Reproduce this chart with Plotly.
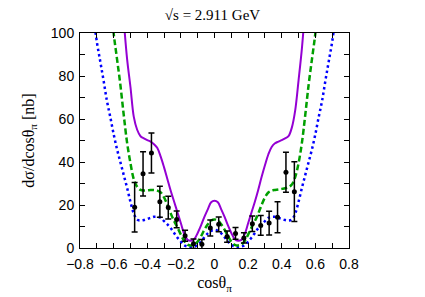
import plotly.graph_objects as go

# Data points at sqrt(s) = 2.911 GeV
cos_pts = [-0.475, -0.425, -0.375, -0.325, -0.275, -0.225, -0.175, -0.125, -0.075, -0.025,
           0.025, 0.075, 0.125, 0.175, 0.225, 0.275, 0.325, 0.375, 0.425, 0.475]
dsig = [19.0, 34.5, 44.2, 21.5, 18.8, 13.3, 5.7, 2.0, 1.7, 9.3,
        11.0, 5.3, 6.8, 4.7, 11.3, 10.5, 11.6, 14.3, 35.2, 26.2]
dsig_err = [11.5, 10.3, 9.3, 7.2, 5.3, 3.9, 2.6, 2.2, 2.3, 3.7,
            3.4, 2.6, 2.7, 2.4, 3.6, 4.6, 5.5, 7.2, 9.3, 13.9]

# Model curves
x_purple = [-0.56, -0.54, -0.52, -0.50, -0.48, -0.46, -0.44, -0.42, -0.40, -0.38, -0.36, -0.34,
            -0.32, -0.30, -0.28, -0.26, -0.24, -0.22, -0.20, -0.18, -0.16, -0.14, -0.12, -0.10,
            -0.08, -0.06, -0.04, -0.02, 0.00, 0.02, 0.04, 0.06, 0.08, 0.10, 0.12, 0.14, 0.16,
            0.18, 0.20, 0.22, 0.24, 0.26, 0.28, 0.30, 0.32, 0.34, 0.36, 0.38, 0.40, 0.42, 0.44,
            0.46, 0.48, 0.50, 0.52, 0.54, 0.56]
y_purple = [125, 106, 88, 75, 61, 55, 52, 51, 50.2, 49.5, 48.3, 46.5,
            42.5, 37.5, 32, 26.5, 21.5, 16.5, 11.5, 6.5, 3.8, 3.4, 4.2, 7,
            10.5, 14.5, 18, 21.3, 22, 21.3, 18, 14.5, 10.5, 7, 4.2, 3.4, 3.8,
            6.5, 11.5, 16.5, 21.5, 27, 33, 38.5, 43.5, 47, 48.7, 49.5, 50.2, 51, 52,
            56, 64, 78, 93, 112, 130]

x_green = [-0.62, -0.60, -0.58, -0.56, -0.54, -0.52, -0.50, -0.48, -0.46, -0.44, -0.42, -0.40,
           -0.38, -0.36, -0.34, -0.32, -0.30, -0.28, -0.26, -0.24, -0.22, -0.20, -0.18, -0.16,
           -0.14, -0.12, -0.10, -0.08, -0.06, -0.04, -0.02, 0.00, 0.02, 0.04, 0.06, 0.08, 0.10,
           0.12, 0.14, 0.16, 0.18, 0.20, 0.22, 0.24, 0.26, 0.28, 0.30, 0.32, 0.34, 0.36, 0.38,
           0.40, 0.42, 0.44, 0.46, 0.48, 0.50, 0.52, 0.54, 0.56, 0.58, 0.60, 0.62]
y_green = [118, 100, 88, 76, 62, 49, 39.5, 32, 28.5, 27, 26.7, 26.8,
           27, 27, 26.7, 25.8, 23.5, 20, 16, 12.5, 9.5, 6.2, 3.3, 1.6,
           1.2, 1.5, 3, 5.5, 8.5, 11, 12.8, 13.3, 12.8, 11, 8.5, 5.5, 3,
           1.5, 1.2, 1.6, 3.3, 6.2, 9.5, 12.5, 16, 20, 23.5, 25.8, 26.7, 27, 27.2,
           27.5, 27.8, 28.3, 29.5, 33, 39.5, 49, 62, 76, 88, 100, 118]

x_blue = [-0.72, -0.70, -0.68, -0.66, -0.64, -0.62, -0.60, -0.58, -0.56, -0.54, -0.52, -0.50,
          -0.48, -0.46, -0.44, -0.42, -0.40, -0.38, -0.36, -0.34, -0.32, -0.30, -0.28, -0.26,
          -0.24, -0.22, -0.20, -0.18, -0.16, -0.14, -0.12, -0.10, -0.08, -0.06, -0.04, -0.02,
          0.00, 0.02, 0.04, 0.06, 0.08, 0.10, 0.12, 0.14, 0.16, 0.18, 0.20, 0.22, 0.24, 0.26,
          0.28, 0.30, 0.32, 0.34, 0.36, 0.38, 0.40, 0.42, 0.44, 0.46, 0.48, 0.50, 0.52, 0.54,
          0.56, 0.58, 0.60, 0.62, 0.64, 0.66, 0.68, 0.70, 0.72]
y_blue = [108, 96, 87, 78, 68.5, 61, 53, 46, 40, 34, 28, 21.5,
          16, 13.2, 12.8, 13, 13.5, 14, 14.5, 14.5, 14, 12.5, 11, 9.2,
          7, 4.8, 3, 1.3, 0.7, 0.4, 0.6, 1.5, 3, 5, 6.8, 8,
          8.4, 8, 6.8, 5, 3, 1.5, 0.6, 0.4, 0.7, 1.3, 3, 4.8, 7, 9.2,
          11, 12.5, 14, 14.5, 14.5, 14, 13.5, 13, 12.8, 13.2, 16, 21.5, 28, 34,
          40, 46, 53, 61, 68.5, 78, 87, 96, 108]

fig = go.Figure()

fig.add_trace(go.Scatter(x=x_blue, y=y_blue, mode="lines", line_shape="spline",
                         line=dict(color="#0000ff", width=2.5, dash="2.5px,3px"),
                         showlegend=False))
fig.add_trace(go.Scatter(x=x_green, y=y_green, mode="lines", line_shape="spline",
                         line=dict(color="#00a000", width=2.5, dash="6px,3px"),
                         showlegend=False))
fig.add_trace(go.Scatter(x=x_purple, y=y_purple, mode="lines", line_shape="spline",
                         line=dict(color="#9400d3", width=2),
                         showlegend=False))
fig.add_trace(go.Scatter(x=cos_pts, y=dsig, mode="markers",
                         marker=dict(color="black", size=5),
                         error_y=dict(type="data", array=dsig_err, color="black",
                                      thickness=1.5, width=3),
                         showlegend=False))

axis_common = dict(showline=True, linecolor="black", linewidth=1, mirror="allticks",
                   ticks="inside", ticklen=5, tickcolor="black", showgrid=False,
                   zeroline=False, automargin=False,
                   tickfont=dict(family="Liberation Sans", size=14, color="black"))

fig.update_xaxes(range=[-0.8, 0.8], dtick=0.2, tick0=-0.8, ticklabelstandoff=3,
                 minor=dict(dtick=0.1, ticks="inside", ticklen=5, tickcolor="black"),
                 title=dict(text="cosθ<sub>π</sub>", font=dict(family="Liberation Serif", size=16, color="black"),
                            standoff=6),
                 **axis_common)
fig.update_yaxes(range=[0, 100], dtick=20, ticklabelstandoff=2,
                 minor=dict(dtick=10, ticks="inside", ticklen=5, tickcolor="black"),
                 title=dict(text="dσ/dcosθ<sub>π</sub> [nb]", font=dict(family="Liberation Serif", size=16, color="black"),
                            standoff=12),
                 **axis_common)

fig.update_layout(
    width=425, height=297,
    margin=dict(l=80, r=76, t=33, b=49),
    paper_bgcolor="white", plot_bgcolor="white",
    title=dict(text="√s = 2.911 GeV", x=0.5, xanchor="center", y=0.95, yanchor="middle",
               font=dict(family="Liberation Serif", size=15, color="black")),
)

fig.write_html("out.html", config={"displayModeBar": False},
               post_script="document.body.style.margin='0px';document.body.style.overflow='hidden';")
